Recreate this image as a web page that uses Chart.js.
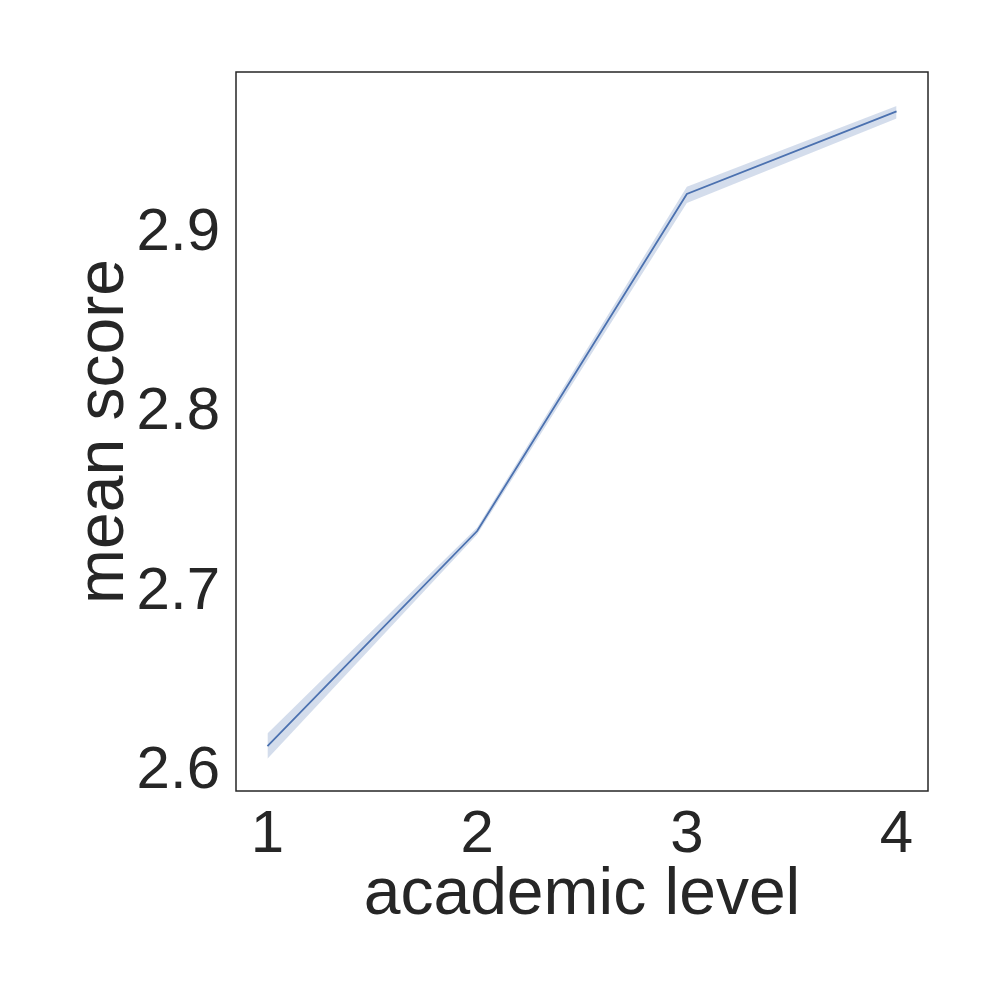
<!DOCTYPE html>
<html>
<head>
<meta charset="utf-8">
<script src="https://cdn.jsdelivr.net/npm/chart.js@4/dist/chart.umd.min.js"></script>
<style>
  body { margin: 0; background: #fff; }
</style>
</head>
<body>
<canvas id="myChart" width="1000" height="1000"></canvas>
<script>
// values
const levels = [1, 2, 3, 4];
const meanScore = [2.614, 2.734, 2.922, 2.968];
const ciLow = [2.607, 2.732, 2.917, 2.964];
const ciHigh = [2.621, 2.736, 2.926, 2.971];
const xTicks = [1, 2, 3, 4];
const yTicks = [2.6, 2.7, 2.8, 2.9];

const toPoints = (ys) => levels.map((x, i) => ({x: x, y: ys[i]}));

const textColor = '#262626';
const fontFamily = '"Liberation Sans", Arial, sans-serif';

// frame around the plot area (seaborn white style)
const frame = {
    id: 'frame',
    afterDraw(chart) {
        const {ctx, chartArea} = chart;
        ctx.save();
        ctx.strokeStyle = '#262626';
        ctx.lineWidth = 1.5;
        ctx.strokeRect(chartArea.left, chartArea.top,
            chartArea.right - chartArea.left, chartArea.bottom - chartArea.top);
        ctx.restore();
    }
};

const ctx = document.getElementById('myChart');

new Chart(ctx, {
    type: 'line',
    data: {
        datasets: [
            {
                label: 'ci high',
                data: toPoints(ciHigh),
                borderWidth: 0,
                pointRadius: 0,
                backgroundColor: 'rgba(76,114,176,0.24)',
                fill: '+1'
            },
            {
                label: 'ci low',
                data: toPoints(ciLow),
                borderWidth: 0,
                pointRadius: 0,
                fill: false
            },
            {
                label: 'mean score',
                data: toPoints(meanScore),
                borderColor: '#4c72b0',
                borderWidth: 1.8,
                pointRadius: 0,
                fill: false
            }
        ]
    },
    options: {
        responsive: false,
        animation: false,
        layout: { padding: { left: 60, right: 72, top: 72, bottom: 40 } },
        plugins: {
            legend: { display: false },
            tooltip: { enabled: false }
        },
        scales: {
            x: {
                type: 'linear',
                min: 0.85,
                max: 4.15,
                grid: { display: false, drawTicks: false },
                border: { display: false },
                afterBuildTicks: (scale) => { scale.ticks = xTicks.map(v => ({value: v})); },
                afterFit: (scale) => { scale.height = 169; },
                ticks: {
                    color: textColor,
                    padding: 8,
                    font: { family: fontFamily, size: 60 }
                },
                title: {
                    display: true,
                    text: 'academic level',
                    color: textColor,
                    padding: { top: 0, bottom: 25 },
                    font: { family: fontFamily, size: 66 }
                }
            },
            y: {
                min: 2.589,
                max: 2.990,
                grid: { display: false, drawTicks: false },
                border: { display: false },
                afterBuildTicks: (scale) => { scale.ticks = yTicks.map(v => ({value: v})); },
                afterFit: (scale) => { scale.width = 176; },
                ticks: {
                    color: textColor,
                    padding: 16,
                    font: { family: fontFamily, size: 60 },
                    callback: (v) => v.toFixed(1)
                },
                title: {
                    display: true,
                    text: 'mean score',
                    color: textColor,
                    padding: { top: 5, bottom: 0 },
                    font: { family: fontFamily, size: 66 }
                }
            }
        }
    },
    plugins: [frame]
});
</script>
</body>
</html>
